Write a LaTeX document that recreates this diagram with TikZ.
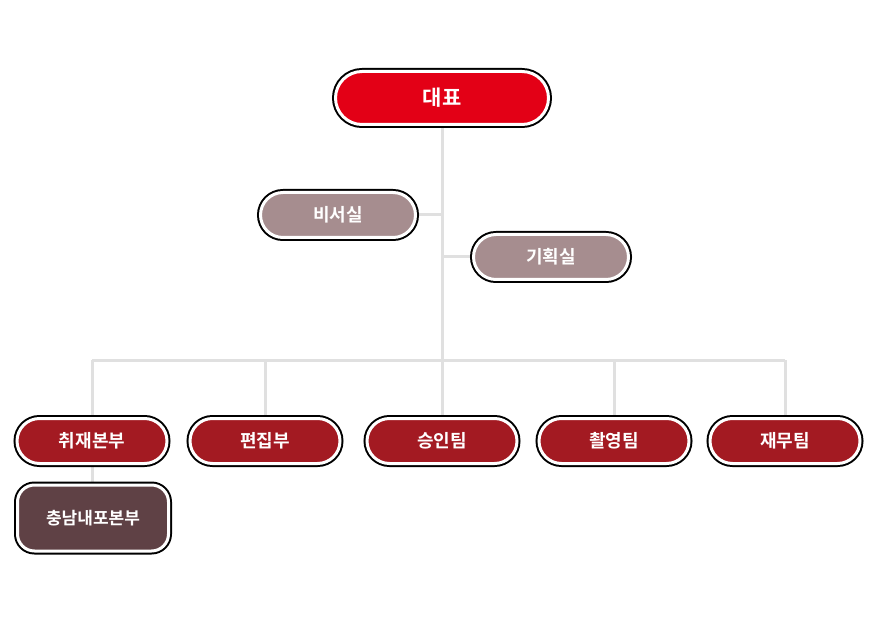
\documentclass[tikz,border=0pt]{standalone}
\usepackage{fontspec}
\newfontfamily\kr{Noto Sans CJK KR}[BoldFont={Noto Sans CJK KR Bold}]
\usetikzlibrary{backgrounds}
\definecolor{ceored}{HTML}{E30016}
\definecolor{deptred}{HTML}{A31A22}
\definecolor{staffgray}{HTML}{A68D8F}
\definecolor{branchbrown}{HTML}{5F4145}
\definecolor{linegray}{HTML}{E0E0E0}
\tikzset{
  x=1pt, y=-1pt,
  orgbox/.style={draw=white, line width=3pt, inner sep=0pt, text=white,
    font=\kr\bfseries\fontsize{18}{18}\selectfont,
    preaction={draw=black, line width=7pt}},
  ceobox/.style={orgbox, fill=ceored, minimum width=213pt, minimum height=53pt,
    rounded corners=26.5pt, font=\kr\bfseries\fontsize{21}{21}\selectfont},
  staffbox/.style={orgbox, fill=staffgray, minimum width=155pt, minimum height=45pt,
    rounded corners=22.5pt},
  deptbox/.style={orgbox, fill=deptred, minimum width=150pt, minimum height=45pt,
    rounded corners=22.5pt},
  branchbox/.style={orgbox, fill=branchbrown, minimum width=151pt, minimum height=66pt,
    rounded corners=17pt, font=\kr\bfseries\fontsize{17}{17}\selectfont},
  conn/.style={draw=linegray, line width=3pt}
}
\begin{document}
\begin{tikzpicture}
\useasboundingbox (0,0) rectangle (878,628);
\node[ceobox] (ceo) at (442,98) {대표};
\node[staffbox] (sec) at (338,215) {비서실};
\node[staffbox] (plan) at (551,257) {기획실};
\node[deptbox] (d1) at (92,441) {취재본부};
\node[deptbox] (d2) at (265,441) {편집부};
\node[deptbox] (d3) at (442,441) {승인팀};
\node[deptbox] (d4) at (614,441) {촬영팀};
\node[deptbox] (d5) at (785,441) {재무팀};
\node[branchbox] (br) at (93,518) {충남내포본부};
\coordinate (bar) at (443,360);
\begin{pgfonlayer}{background}
\fill[white] (0,0) rectangle (878,628);
\draw[conn] (ceo.south) -- (ceo.south |- bar);
\draw[conn] (sec.east) -- (sec.east -| ceo.south);
\draw[conn] (plan.west) -- (plan.west -| ceo.south);
\draw[conn] (d1.north |- bar) -- (d5.north |- bar);
\foreach \d in {d1,d2,d3,d4,d5} \draw[conn] (\d.north |- bar) -- (\d.north);
\draw[conn] (d1.south) -- (d1.south |- br.north);
\end{pgfonlayer}
\end{tikzpicture}
\end{document}
